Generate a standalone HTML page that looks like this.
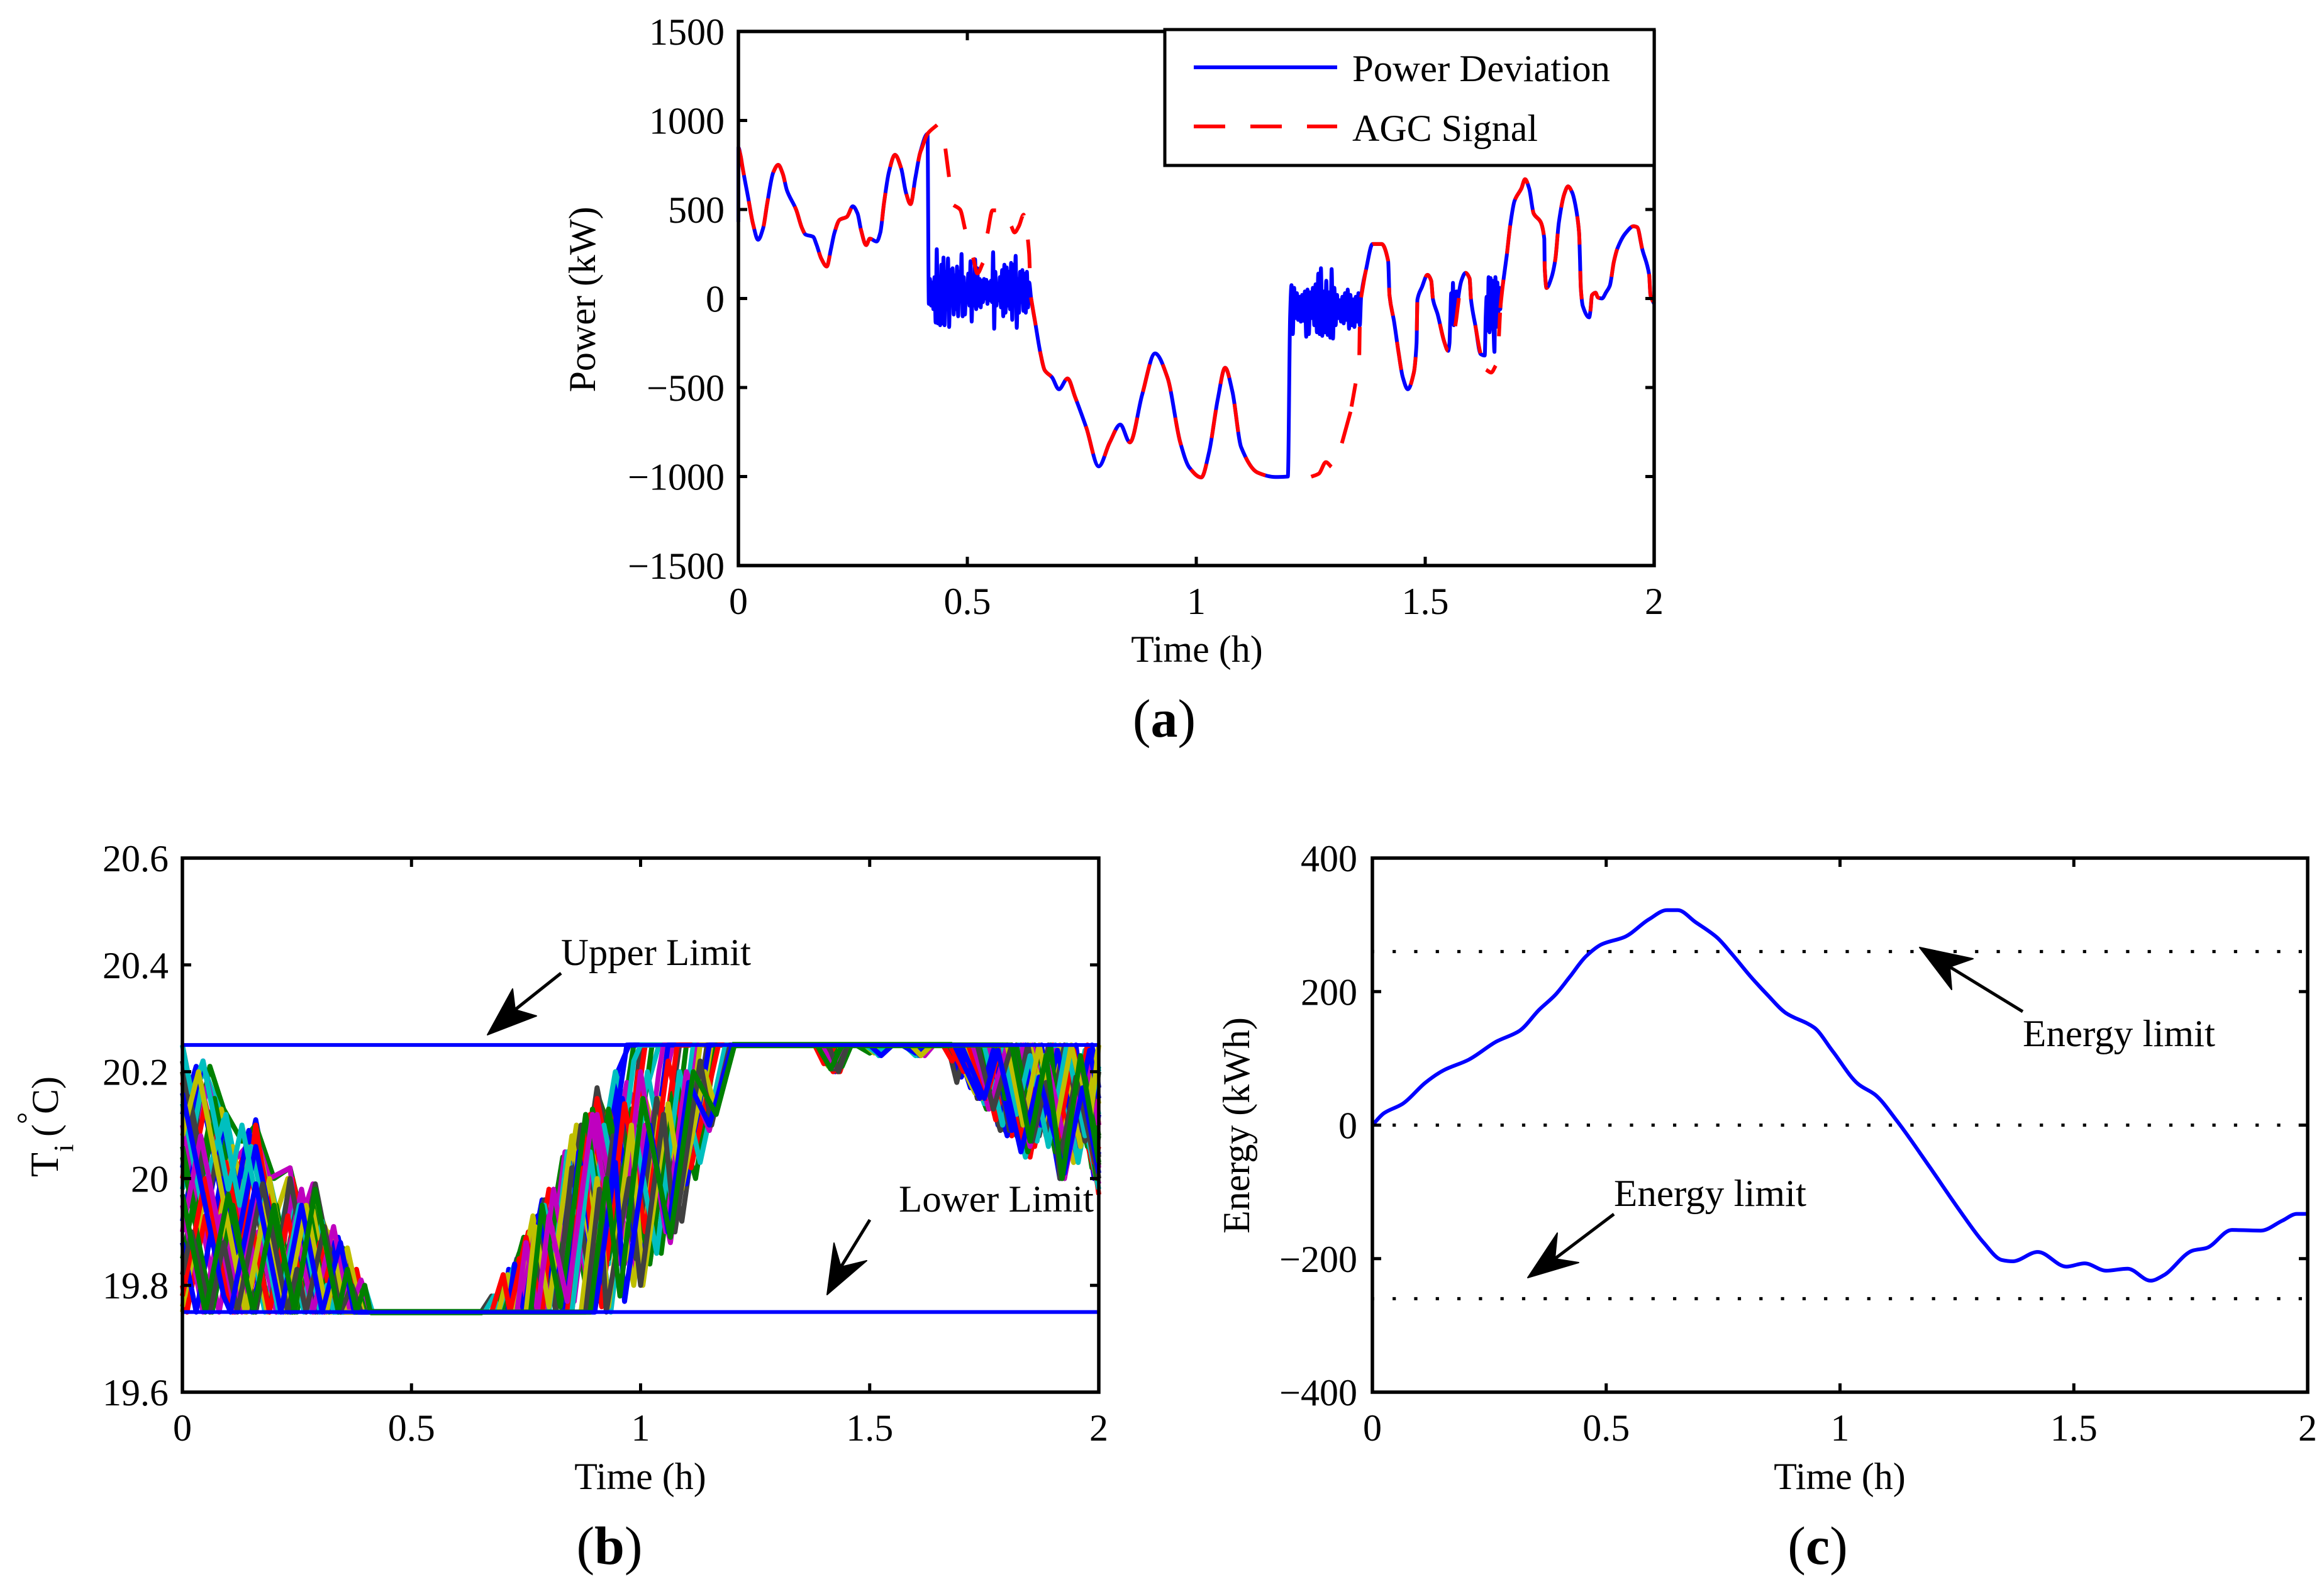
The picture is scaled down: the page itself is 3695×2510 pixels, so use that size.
<!DOCTYPE html>
<html lang="en">
<head>
<meta charset="utf-8">
<title>Power deviation, temperature and energy charts</title>
<style>
html,body{margin:0;padding:0;background:#fff;}
svg{display:block;}
text{font-family:"Liberation Serif",serif;font-size:60px;fill:#000;}
</style>
</head>
<body>
<svg id="figure" xmlns="http://www.w3.org/2000/svg" width="3695" height="2510" viewBox="0 0 3695 2510">
  <rect x="0" y="0" width="3695" height="2510" fill="#fff"/>
</svg>
<script>
// ---------- shared axis data ----------
const timeTicks = [0, 0.5, 1, 1.5, 2];
const timeTickLabels = ["0", "0.5", "1", "1.5", "2"];

// ---------- panel (a) data ----------
const powerTicks = [-1500, -1000, -500, 0, 500, 1000, 1500];
const powerTickLabels = ["\u22121500", "\u22121000", "\u2212500", "0", "500", "1000", "1500"];
const agcSignal = [
[0,848],[.005,800],[.009,736],[.021,571],[.032,418],[.043,330],[.054,395],[.063,536],[.076,707],[.087,751],[.097,700],[.106,607],[.126,500],[.139,395],[.147,359],[.163,347],[.171,300],[.181,224],[.193,180],[.202,277],[.21,371],[.221,442],[.237,459],[.25,518],[.2603,477],[.268,383],[.279,300],[.287,336],[.302,320],[.31,371],[.318,536],[.329,713],[.342,807],[.3557,730],[.366,595],[.376,530],[.3864,677],[.397,819],[.413,925],[.434,975],[.452,842],[.46,683],[.47,524],[.484,500],[.495,389],[.5126,230],[.522,141],[.534,200],[.544,365],[.555,495],[.5626,495],[.58,440],[.596,406],[.603,371],[.6125,406],[.623,471],[.63,400],[.635,250],[.639,6],[.649,-147],[.66,-312],[.669,-403],[.685,-443],[.7,-510],[.719,-449],[.735,-551],[.76,-727],[.787,-943],[.811,-808],[.834,-708],[.855,-808],[.882,-538],[.91,-308],[.937,-443],[.965,-808],[.985,-950],[1.011,-1005],[1.028,-862],[1.047,-565],[1.063,-389],[1.079,-524],[1.098,-835],[1.134,-978],[1.173,-1003],[1.2,-1000],[1.251,-1001],[1.268,-983],[1.283,-919],[1.295,-946],[1.318,-813],[1.337,-636],[1.348,-477],[1.356,-318],[1.357,-159],[1.36,6],[1.371,165],[1.385,306],[1.405,306],[1.419,212],[1.422,18],[1.432,-130],[1.441,-289],[1.451,-442],[1.462,-510],[1.475,-418],[1.481,-253],[1.483,-6],[1.493,65],[1.505,133],[1.513,100],[1.517,-6],[1.527,-88],[1.542,-247],[1.55,-294],[1.559,-253],[1.567,-130],[1.572,-30],[1.579,100],[1.588,144],[1.597,112],[1.6,-6],[1.61,-159],[1.621,-312],[1.633,-400],[1.644,-416],[1.654,-377],[1.661,-212],[1.664,-53],[1.67,88],[1.678,241],[1.686,418],[1.695,548],[1.71,618],[1.718,670],[1.727,618],[1.737,477],[1.752,430],[1.76,336],[1.761,171],[1.765,59],[1.775,112],[1.784,218],[1.792,430],[1.804,589],[1.812,630],[1.821,595],[1.828,524],[1.836,371],[1.838,218],[1.84,53],[1.844,-41],[1.858,-106],[1.861,-65],[1.864,18],[1.872,33],[1.877,6],[1.886,0],[1.895,35],[1.903,71],[1.912,206],[1.92,283],[1.937,365],[1.955,406],[1.963,400],[1.974,277],[1.989,135],[1.992,18],[2,-30]
];
// hours at which the dashed AGC line is visible: [from, to, regular-dash flag]
const agcVisibleHours = [[0,.4,1],[.4,.434,0],[.452,.46,0],[.47,.495,0],[.5126,.534,0],[.544,.5626,0],[.596,.6235,0],[.6323,.6363,0],[.639,1.2,1],[1.251,1.295,0],[1.318,1.337,0],[1.339,1.348,0],[1.356,1.357,0],[1.36,1.63,1],[1.633,1.654,0],[1.661,1.6635,0],[1.664,2,1]];
const deviationStart = [[0,430]];
const noiseHours1 = [.416, .635];
const noiseKw1 = [-30,110,-40,90,-60,120,-135,277,-140,100,-150,190,-140,230,-150,150,-20,225,-160,160,-30,170,-90,130,-60,180,-100,150,-10,250,-100,120,-90,60,-20,140,-40,210,-130,100,-40,220,-60,170,-40,110,-50,100,-20,110,0,105,-30,90,-10,100,-20,260,-170,150,-40,70,-10,120,-50,160,-100,190,-80,175,-40,150,-60,200,-120,190,-40,240,-165,110,-80,150,-20,160,-70,140,-80,150,-50,90];
const noiseHours2 = [1.205, 1.36];
const noiseKw2 = [-100,75,-200,60,-110,30,-120,10,-130,20,-125,40,-215,50,-200,35,-110,60,-150,80,-190,140,-200,170,-210,40,-190,100,-205,35,-220,165,-225,60,-150,20,-110,-10,-130,10,-140,30,-120,50,-170,20,-150,-5,-160,10,-130,30,-150,10];
const noiseHours3 = [1.553, 1.572];
const noiseKw3 = [-250,-100,30,-140,88,-150,10,-120,40,-60,0];
const noiseHours4 = [1.63, 1.666];
const noiseKw4 = [-320,-100,10,-180,120,-190,115,-170,100,-150,-300,120,-160,90,-80,60,-60,20];
const legendLabels = ["Power Deviation", "AGC Signal"];

// ---------- panel (b) data: temperature traces as t,T turning points ----------
const tempTicks = [19.6, 19.8, 20, 20.2, 20.4, 20.6];
const tempTickLabels = ["19.6", "19.8", "20", "20.2", "20.4", "20.6"];
const upperLimit = [20.25];
const lowerLimit = [19.75];
const floorBand = [.41, 19.75, .655, 19.75];
const ceilingBand = [1.2, 20.25, 1.68, 20.25];
const traceColors = ["#0000ff", "#008000", "#ff0000", "#00bfbf", "#bf00bf", "#bfbf00", "#404040"];
const unitTraces = [
[0,20.12,.03,20.21,.105,19.88,.16,20.11,.24,19.75,.29,19.98,.34,19.75,.37,19.83,.39,19.75,.655,19.75,.68,19.78,.7,19.75,.73,19.85,.75,19.8,.785,19.96,.82,19.84,.85,20.06,.905,19.85,.95,20.2,.975,20.25,1.39,20.25,1.425,20.2,1.45,20.25,1.665,20.25,1.7,20.19,1.73,20.25,1.77,20.14,1.8,20.25,1.84,20.1,1.875,20.25,1.915,20.02,1.95,20.25,1.99,20,2,20.05],
[0,20.22,.03,20.08,.06,20.21,.09,20.13,.13,20.07,.16,20.1,.2,20,.235,20.02,.31,19.75,.35,19.87,.375,19.75,.68,19.75,.71,19.82,.73,19.78,.75,19.89,.78,19.8,.835,20.04,.875,19.9,.905,20.16,.95,20.05,.985,20.25,1.47,20.25,1.5,20.235,1.52,20.25,1.7,20.25,1.74,20.16,1.765,20.25,1.805,20.1,1.845,20.05,1.88,20.15,1.91,20.03,1.945,20.24,1.985,20.02,2,20.08],
[0,20,.04,20.18,.1,19.95,.135,20.05,.21,19.8,.24,20,.285,19.83,.31,19.91,.345,19.75,.38,19.83,.4,19.75,.72,19.75,.755,19.9,.78,19.82,.835,20.03,.87,19.9,.93,20.13,.97,20,1.01,20.25,1.405,20.25,1.43,20.2,1.45,20.25,1.72,20.25,1.755,20.15,1.785,20.23,1.82,20.12,1.85,20.24,1.89,20.08,1.925,20.24,1.965,20.1,2,19.98],
[0,20.14,.05,20.2,.085,20.12,.165,19.8,.19,20,.25,19.77,.285,19.97,.33,19.78,.345,19.87,.375,19.75,.397,19.8,.415,19.75,.745,19.75,.79,19.96,.82,19.85,.87,20.1,.905,20,.945,20.2,.985,20.08,1.04,20.25,1.575,20.25,1.6,20.23,1.62,20.25,1.74,20.25,1.78,20.12,1.81,20.24,1.85,20.06,1.89,20.23,1.93,20.07,1.97,20.24,2,20.12],
[0,19.9,.055,20.18,.1,20.02,.16,20.08,.19,20,.235,20.02,.25,19.9,.285,19.99,.34,19.76,.355,19.85,.375,19.75,.76,19.75,.8,19.9,.83,19.8,.88,20.08,.93,19.98,.97,20.18,1.02,20.05,1.07,20.25,1.4,20.25,1.42,20.205,1.445,20.25,1.69,20.25,1.735,20.16,1.77,20.25,1.79,20.1,1.825,20.2,1.85,20.05,1.885,20.2,1.92,20,1.955,20.16,2,19.99],
[0,20.2,.03,20.02,.085,20.13,.12,20,.16,20.09,.2,19.92,.23,20,.27,19.85,.285,19.97,.315,19.9,.345,19.88,.38,19.75,.79,19.75,.82,19.94,.86,19.82,.9,20.05,.95,19.92,1,20.18,1.05,20.03,1.09,20.18,1.12,20.08,1.16,20.25,1.38,20.25,1.41,20.21,1.43,20.25,1.76,20.25,1.79,20.1,1.83,20.23,1.86,20.09,1.9,20.24,1.94,20.06,1.98,20.23,2,20.1],
[0,20.25,.114,19.75,.175,20.02,.236,19.75,.29,19.99,.345,19.75,.366,19.84,.387,19.75,.652,19.75,.675,19.78,.69,19.75,.735,19.86,.76,19.75,.79,19.96,.835,19.76,.905,20.17,.96,19.93,1,20.25,1.385,20.25,1.415,20.205,1.45,20.25,1.67,20.25,1.69,20.18,1.71,20.25,1.735,20.15,1.76,20.25,1.795,20.09,1.83,20.25,1.87,20.08,1.9,20.2,1.92,20,1.965,20.2,2,20.04],
[0,20.02,.045,20.22,.152,19.75,.195,19.94,.238,19.75,.276,19.92,.314,19.75,.345,19.88,.376,19.75,.7,19.75,.712,19.83,.73,19.75,.775,19.93,.81,19.77,.85,20.06,.9,19.84,.97,20.25,1.4,20.25,1.43,20.205,1.455,20.25,1.69,20.25,1.72,20.17,1.745,20.25,1.78,20.1,1.81,20.22,1.845,20.05,1.875,20.2,1.915,20,1.955,20.18,1.985,20.05,2,20.12],
[0,19.85,.07,20.15,.16,19.75,.2,19.93,.24,19.75,.285,19.95,.33,19.75,.36,19.83,.379,19.75,.68,19.75,.69,19.79,.7,19.75,.745,19.89,.775,19.75,.83,20.04,.88,19.8,.93,20.13,.975,19.93,1.025,20.25,1.48,20.25,1.5,20.235,1.53,20.25,1.7,20.25,1.755,20.13,1.79,20.25,1.825,20.1,1.86,20.25,1.905,20.05,1.94,20.22,1.975,20.06,2,20.2],
[0,20.18,.03,20.05,.05,20.14,.14,19.75,.19,19.97,.245,19.75,.265,19.84,.285,19.75,.315,19.88,.345,19.75,.37,19.8,.4,19.75,.72,19.75,.735,19.85,.755,19.75,.8,19.98,.85,19.75,.905,20.15,.955,19.92,1.01,20.25,1.39,20.25,1.42,20.2,1.445,20.25,1.66,20.25,1.68,20.22,1.7,20.25,1.74,20.15,1.77,20.25,1.81,20.08,1.84,20.2,1.85,20.04,1.89,20.22,1.92,20.04,1.96,20.22,2,19.97],
[0,19.98,.042,20.17,.075,20.03,.095,20.12,.18,19.75,.23,19.97,.28,19.75,.31,19.87,.34,19.75,.375,19.79,.39,19.75,.66,19.75,.68,19.78,.69,19.75,.725,19.84,.745,19.75,.79,19.95,.83,19.77,.875,20.09,.93,19.84,.985,20.22,1,20.25,1.58,20.25,1.605,20.23,1.63,20.25,1.71,20.25,1.75,20.14,1.78,20.25,1.84,20.04,1.88,20.23,1.925,20.02,1.955,20.16,2,19.98],
[0,20.1,.08,19.75,.135,19.99,.19,19.75,.24,19.97,.29,19.75,.312,19.85,.335,19.75,.36,19.83,.38,19.75,.4,19.79,.41,19.75,.74,19.75,.76,19.9,.79,19.75,.835,20.05,.885,19.8,.925,20.08,.985,19.82,1.04,20.2,1.05,20.25,1.405,20.25,1.43,20.21,1.452,20.25,1.72,20.25,1.76,20.13,1.79,20.22,1.82,20.1,1.855,20.25,1.895,20.08,1.925,20.25,1.965,20.07,2,20.25],
[0,19.75,.055,20,.075,19.91,.11,20.06,.185,19.75,.21,19.86,.235,19.75,.26,19.87,.285,19.75,.318,19.9,.353,19.75,.38,19.8,.395,19.75,.69,19.75,.71,19.82,.725,19.75,.765,19.93,.8,19.76,.86,20.1,.92,19.82,.96,20.05,1,19.87,1.06,20.25,1.38,20.25,1.41,20.21,1.44,20.25,1.49,20.25,1.51,20.235,1.53,20.25,1.68,20.25,1.73,20.16,1.755,20.25,1.79,20.1,1.835,20.25,1.88,20.1,1.905,20.2,1.945,20.03,1.985,20.22,2,20.14],
[0,20.22,.1,19.78,.115,19.75,.16,19.95,.205,19.75,.25,19.95,.295,19.75,.32,19.86,.345,19.75,.765,19.75,.785,19.9,.815,19.75,.87,20.1,.925,19.85,.96,20.1,1.02,19.84,1.085,20.25,1.395,20.25,1.42,20.205,1.448,20.25,1.73,20.25,1.785,20.09,1.82,20.25,1.85,20.06,1.89,20.25,1.915,20,1.96,20.2,2,20],
[0,19.92,.03,20.05,.055,19.94,.09,20.1,.12,19.98,.145,20.09,.22,19.75,.26,19.93,.3,19.75,.33,19.88,.36,19.75,.71,19.75,.725,19.84,.745,19.75,.78,19.93,.81,19.8,.845,20.03,.905,19.77,.96,20.15,1.01,19.92,1.06,20.25,1.59,20.25,1.61,20.23,1.63,20.25,1.695,20.25,1.725,20.18,1.75,20.25,1.8,20.08,1.84,20.25,1.875,20.12,1.905,20.25,1.95,20.05,1.985,20.25,2,20.17],
[0,20.06,.03,19.93,.07,20.11,.145,19.78,.16,19.75,.205,19.95,.25,19.75,.28,19.88,.31,19.75,.34,19.86,.37,19.75,.39,19.8,.405,19.75,.785,19.75,.81,19.95,.845,19.76,.895,20.13,.945,19.9,.98,20.13,1.045,19.86,1.1,20.25,1.385,20.25,1.405,20.215,1.43,20.25,1.74,20.25,1.77,20.14,1.8,20.25,1.845,20.05,1.88,20.22,1.925,20,1.97,20.22,2,20.08],
[0,19.8,.01,19.75,.05,19.93,.06,19.88,.095,20.03,.13,19.88,.16,20.1,.225,19.75,.27,19.95,.315,19.75,.33,19.82,.345,19.75,.675,19.75,.7,19.82,.715,19.75,.75,19.89,.785,19.75,.8,19.87,.83,19.75,.89,20.12,.945,19.87,.995,20.2,1.04,20,1.08,20.25,1.41,20.25,1.435,20.2,1.455,20.25,1.675,20.25,1.705,20.2,1.735,20.25,1.775,20.11,1.81,20.25,1.86,20.06,1.9,20.25,1.94,20.07,1.975,20.25,2,20.1],
[0,20.14,.04,19.96,.09,20.11,.125,19.95,.15,20.06,.225,19.75,.245,19.84,.265,19.75,.305,19.92,.345,19.75,.37,19.8,.385,19.75,.8,19.75,.84,20.05,.885,19.82,.92,20.1,.97,19.88,1.015,20.2,1.07,19.95,1.115,20.25,1.5,20.25,1.52,20.23,1.54,20.25,1.75,20.25,1.79,20.1,1.825,20.25,1.865,20.07,1.905,20.25,1.955,20.03,1.995,20.22,2,20.2],
[0,19.95,.045,19.75,.085,19.93,.12,19.78,.13,19.75,.165,19.9,.205,19.75,.26,19.98,.31,19.75,.34,19.88,.375,19.75,.73,19.75,.75,19.88,.775,19.75,.81,19.98,.855,19.77,.905,20.12,.965,19.84,1.01,20.1,1.065,19.88,1.125,20.25,1.6,20.25,1.62,20.23,1.64,20.25,1.76,20.25,1.8,20.12,1.835,20.25,1.87,20.1,1.905,20.24,1.925,20,1.975,20.22,2,20.1],
[0,19.76,.03,19.88,.06,19.75,.1,19.93,.14,19.75,.19,20,.245,19.75,.285,19.94,.325,19.75,.36,19.87,.39,19.75,.75,19.75,.77,19.91,.8,19.76,.85,20.08,.91,19.78,.945,20,.985,19.8,1.04,20.15,1.09,19.98,1.13,20.25,1.39,20.25,1.41,20.22,1.43,20.25,1.705,20.25,1.745,20.15,1.775,20.25,1.815,20.11,1.85,20.25,1.885,20.13,1.915,20.25,1.96,20.06,2,20.25],
[0,20.2,.055,19.95,.075,20.04,.16,19.75,.175,19.82,.19,19.75,.235,20,.29,19.75,.32,19.88,.35,19.75,.815,19.75,.85,20.02,.895,19.78,.94,20.08,.99,19.85,1.035,20.15,1.09,19.92,1.145,20.25,1.4,20.25,1.425,20.205,1.45,20.25,1.77,20.25,1.805,20.09,1.845,20.25,1.885,20.08,1.925,20.25,1.97,20.07,2,20.2],
[0,19.88,.03,19.75,.085,20,.115,19.86,.16,20.06,.235,19.75,.265,19.88,.3,19.75,.34,19.89,.375,19.75,.83,19.75,.865,20.05,.91,19.78,.95,20.1,1,19.82,1.05,20.13,1.1,19.99,1.15,20.25,1.57,20.25,1.6,20.235,1.625,20.25,1.685,20.25,1.74,20.15,1.77,20.24,1.81,20.09,1.85,20.2,1.875,20.1,1.91,20.24,1.945,20.09,1.98,20.24,2,20.15],
[0,20.04,.065,19.75,.11,19.95,.155,19.75,.195,19.93,.225,19.8,.24,19.75,.28,19.93,.32,19.75,.35,19.85,.37,19.75,.76,19.75,.785,19.95,.825,19.76,.88,20.12,.93,19.85,.97,20.05,1.02,19.84,1.07,20.16,1.12,20,1.165,20.25,1.42,20.25,1.44,20.21,1.46,20.25,1.78,20.25,1.795,20.15,1.82,20.25,1.855,20.09,1.895,20.25,1.92,20.03,1.96,20.2,1.995,20,2,20.03],
[0,19.78,.05,20,.1,19.78,.11,19.75,.15,19.92,.19,19.75,.23,19.93,.27,19.75,.3,19.88,.33,19.75,.36,19.83,.385,19.75,.84,19.75,.875,20.02,.915,19.76,.965,20.14,1.01,19.9,1.06,20.22,1.11,20.02,1.17,20.25,1.38,20.25,1.4,20.215,1.425,20.25,1.715,20.25,1.755,20.15,1.785,20.25,1.83,20.07,1.87,20.25,1.91,20.07,1.945,20.24,1.99,20.03,2,20.06],
[0,20.25,.02,20.16,.045,20.22,.1,19.98,.13,20.1,.21,19.75,.255,19.95,.3,19.75,.315,19.8,.33,19.75,.85,19.75,.89,20.05,.935,19.75,.985,20.1,1.035,19.86,1.085,20.2,1.13,20.03,1.185,20.25,1.49,20.25,1.515,20.235,1.54,20.25,1.79,20.25,1.82,20.12,1.85,20.23,1.89,20.06,1.93,20.25,1.97,20.08,2,20.21],
[0,19.9,.04,20.08,.115,19.75,.165,19.97,.215,19.75,.25,19.9,.285,19.75,.33,19.91,.365,19.75,.39,19.81,.41,19.75,.775,19.75,.8,19.93,.84,19.77,.895,20.12,.95,19.84,1,20.2,1.055,19.9,1.1,20.2,1.15,20.09,1.195,20.25,1.395,20.25,1.42,20.21,1.44,20.25,1.725,20.25,1.765,20.14,1.8,20.25,1.85,20.06,1.89,20.21,1.93,20.05,1.965,20.2,2,20.02],
[0,20.08,.035,20.2,.13,19.78,.137,19.75,.18,19.94,.225,19.75,.27,19.95,.315,19.75,.335,19.84,.355,19.75,.87,19.75,.905,20,.93,19.76,.98,20.1,1.005,19.8,1.06,20.14,1.09,19.98,1.14,20.2,1.165,20.13,1.205,20.25,1.59,20.25,1.612,20.23,1.635,20.25,1.8,20.25,1.835,20.1,1.87,20.25,1.905,20.09,1.94,20.25,1.98,20.1,2,20.25],
[0,19.82,.02,19.9,.06,19.75,.09,19.88,.12,19.75,.175,19.99,.23,19.75,.25,19.83,.27,19.75,.31,19.91,.345,19.75,.37,19.8,.39,19.75,.88,19.75,.91,19.98,.925,19.75,.975,20,1,19.8,1.05,20.12,1.075,19.9,1.13,20.22,1.155,20.1,1.195,20.25,1.41,20.25,1.432,20.2,1.452,20.25,1.735,20.25,1.77,20.13,1.81,20.25,1.855,20.07,1.885,20.18,1.915,20.03,1.95,20.19,2,20],
[0,20.16,.09,19.78,.105,19.75,.16,19.99,.215,19.75,.26,19.95,.305,19.75,.345,19.88,.375,19.75,.9,19.75,.945,20.03,.965,19.77,1.02,20.1,1.06,19.9,1.105,20.18,1.15,20.1,1.2,20.25,1.5,20.25,1.525,20.23,1.55,20.25,1.7,20.25,1.75,20.15,1.78,20.24,1.83,20.05,1.87,20.19,1.925,20.01,1.965,20.17,2,20.01],
[0,19.97,.05,19.75,.1,19.97,.155,19.75,.2,19.95,.245,19.75,.29,19.98,.34,19.75,.36,19.83,.38,19.75,.398,19.8,.41,19.75,.89,19.75,.925,20,.955,19.78,1.005,20.15,1.065,19.89,1.115,20.2,1.165,20.12,1.205,20.25,1.385,20.25,1.415,20.205,1.44,20.25,1.81,20.25,1.85,20.07,1.885,20.23,1.92,20,1.96,20.23,2,20.03]
];
const tempAnnotations = ["Upper Limit", "Lower Limit"];

// ---------- panel (c) data ----------
const energyTicks = [-400, -200, 0, 200, 400];
const energyTickLabels = ["\u2212400", "\u2212200", "0", "200", "400"];
const energyLimits = [260, 0, -260];
const energyCurve = [
[0,0],[.025,18],[.065,32],[.114,64],[.152,82],[.206,98],[.265,125],[.314,141],[.357,173],[.391,195],[.422,222],[.457,253],[.491,271],[.54,282],[.591,308],[.63,322],[.653,322],[.691,304],[.737,281],[.768,257],[.807,224],[.845,195],[.884,168],[.945,146],[.984,111],[1.038,62],[1.076,45],[1.122,6],[1.192,-63],[1.253,-125],[1.307,-176],[1.346,-202],[1.369,-204],[1.423,-190],[1.484,-212],[1.523,-207],[1.569,-218],[1.615,-215],[1.664,-233],[1.692,-225],[1.754,-188],[1.784,-184],[1.838,-157],[1.9,-158],[1.946,-143],[1.977,-133],[2,-133]
];
const energyAnnotations = ["Energy limit", "Energy limit"];

// ---------- drawing ----------
const NS = "http://www.w3.org/2000/svg";
const svg = document.getElementById("figure");

function make(parent, tag, attrs, content) {
  const el = document.createElementNS(NS, tag);
  for (const k in attrs) el.setAttribute(k, attrs[k]);
  if (content !== undefined) el.textContent = content;
  parent.appendChild(el);
  return el;
}
function scale(d0, d1, r0, r1) {
  return v => r0 + (v - d0) / (d1 - d0) * (r1 - r0);
}
function pointsOf(pairs, sx, sy) {
  return pairs.map(p => sx(p[0]).toFixed(1) + "," + sy(p[1]).toFixed(1)).join(" ");
}
function flatPairs(flat) {
  const out = [];
  for (let i = 0; i + 1 < flat.length; i += 2) out.push([flat[i], flat[i + 1]]);
  return out;
}
// monotone cubic path through the data points (no overshoot)
function smoothPath(pairs, sx, sy) {
  const P = pairs.map(p => [sx(p[0]), sy(p[1])]);
  const n = P.length;
  const m = [];
  for (let i = 0; i < n - 1; i++) {
    const dx = P[i + 1][0] - P[i][0];
    m.push(dx > 0 ? (P[i + 1][1] - P[i][1]) / dx : 0);
  }
  const tan = [];
  for (let i = 0; i < n; i++) {
    if (i === 0) tan.push(m[0]);
    else if (i === n - 1) tan.push(m[n - 2]);
    else if (m[i - 1] * m[i] <= 0) tan.push(0);
    else tan.push(2 * m[i - 1] * m[i] / (m[i - 1] + m[i]));
  }
  let d = "M" + P[0][0].toFixed(1) + " " + P[0][1].toFixed(1);
  for (let i = 0; i < n - 1; i++) {
    const dx = P[i + 1][0] - P[i][0];
    if (dx <= 0) {
      d += "L" + P[i + 1][0].toFixed(1) + " " + P[i + 1][1].toFixed(1);
    } else {
      d += "C" + (P[i][0] + dx / 3).toFixed(1) + " " + (P[i][1] + tan[i] * dx / 3).toFixed(1) + " " +
        (P[i + 1][0] - dx / 3).toFixed(1) + " " + (P[i + 1][1] - tan[i + 1] * dx / 3).toFixed(1) + " " +
        P[i + 1][0].toFixed(1) + " " + P[i + 1][1].toFixed(1);
    }
  }
  return d;
}
function valueAt(series, t) {
  for (let i = 0; i < series.length - 1; i++) {
    if (t >= series[i][0] && t <= series[i + 1][0]) {
      const dt = series[i + 1][0] - series[i][0];
      if (dt === 0) return series[i][1];
      return series[i][1] + (series[i + 1][1] - series[i][1]) * (t - series[i][0]) / dt;
    }
  }
  return series[series.length - 1][1];
}
function sliceSeries(series, t0, t1) {
  const out = [[t0, valueAt(series, t0)]];
  series.forEach(p => {
    if (p[0] > t0 && p[0] < t1) out.push(p);
  });
  out.push([t1, valueAt(series, t1)]);
  return out;
}

function drawAxes(group, box, sx, sy, xT, xL, yT, yL, yLabelRight) {
  const TICK = 14;
  xT.forEach((v, i) => {
    const x = sx(v);
    const b = make(group, "line", {x1: x, x2: x, y1: box.b, y2: box.b - TICK, stroke: "#000", "stroke-width": 5});
    
    
    const t = make(group, "line", {x1: x, x2: x, y1: box.t, y2: box.t + TICK, stroke: "#000", "stroke-width": 5});
    
    
    const lab = make(group, "text", {x: x, y: box.b + 77, "text-anchor": "middle"}, xL[i]);
    
    
  });
  yT.forEach((v, i) => {
    const y = sy(v);
    const l = make(group, "line", {x1: box.l, x2: box.l + TICK, y1: y, y2: y, stroke: "#000", "stroke-width": 5});
    
    
    const r = make(group, "line", {x1: box.r, x2: box.r - TICK, y1: y, y2: y, stroke: "#000", "stroke-width": 5});
    
    
    const lab = make(group, "text", {x: yLabelRight, y: y + 21, "text-anchor": "end"}, yL[i]);
    
    
  });
  const frame = make(group, "rect", {x: box.l, y: box.t, width: box.r - box.l, height: box.b - box.t, fill: "none", stroke: "#000", "stroke-width": 5.5});
  
  
}
function caption(letter, cx, y) {
  const t = make(svg, "text", {x: cx, y: y, "text-anchor": "middle", style: "font-size:86px"});
  
  
  make(t, "tspan", {}, "(");
  make(t, "tspan", {"font-weight": "bold"}, letter);
  make(t, "tspan", {}, ")");
}
function xLabel(group, cx, y) {
  const t = make(group, "text", {x: cx, y: y, "text-anchor": "middle"}, "Time (h)");
  
  
}
function arrow(group, tail, notch, barbA, tip, barbB, name) {
  const s = make(group, "line", {x1: tail[0], y1: tail[1], x2: notch[0], y2: notch[1], stroke: "#000", "stroke-width": 5});
  
  
  const h = make(group, "polygon", {points: [notch, barbA, tip, barbB].map(p => p.join(",")).join(" "), fill: "#000", stroke: "#000", "stroke-width": 2, "stroke-linejoin": "round"});
  
  
}

// ----- panel (a) -----
(function () {
  const box = {l: 1174, r: 2630, t: 50, b: 899};
  const g = make(svg, "g", {});
  
  
  const sx = scale(0, 2, box.l, box.r);
  const sy = scale(-1500, 1500, box.b, box.t);

  const windows = [
    [noiseHours1, noiseKw1], [noiseHours2, noiseKw2], [noiseHours3, noiseKw3], [noiseHours4, noiseKw4]
  ];
  let deviation = deviationStart.slice();
  let w = 0;
  agcSignal.forEach(p => {
    while (w < windows.length && p[0] >= windows[w][0][0]) {
      const h = windows[w][0], vals = windows[w][1];
      if (p[0] <= h[1]) {
        vals.forEach((v, i) => deviation.push([h[0] + (h[1] - h[0]) * i / (vals.length - 1), v]));
        break;
      } else {
        w++;
      }
    }
    const inside = windows.some(win => p[0] >= win[0][0] && p[0] <= win[0][1]);
    if (!inside) deviation.push(p);
    if (w < windows.length && p[0] >= windows[w][0][0]) { w++; }
  });

  const blue = make(g, "path", {d: smoothPath(deviation, sx, sy), fill: "none", stroke: "#0000ff", "stroke-width": 6, "stroke-linejoin": "round"});
  
  

  agcVisibleHours.forEach(section => {
    const piece = sliceSeries(agcSignal, section[0], section[1]);
    const attrs = {d: smoothPath(piece, sx, sy), fill: "none", stroke: "#ff0000", "stroke-width": 6, "stroke-linejoin": "round"};
    if (section[2] === 1) attrs["stroke-dasharray"] = "45 42";
    const red = make(g, "path", attrs);
    
    
  });

  drawAxes(g, box, sx, sy, timeTicks, timeTickLabels, powerTicks, powerTickLabels, 1152);

  const leg = make(g, "g", {});
  
  
  const lb = make(leg, "rect", {x: 1852, y: 47, width: 778, height: 216, fill: "#fff", stroke: "#000", "stroke-width": 5});
  
  
  const l1 = make(leg, "line", {x1: 1898, x2: 2126, y1: 107, y2: 107, stroke: "#0000ff", "stroke-width": 6});
  
  
  const l2 = make(leg, "line", {x1: 1898, x2: 2126, y1: 201, y2: 201, stroke: "#ff0000", "stroke-width": 6, "stroke-dasharray": "50 40"});
  
  
  const t1 = make(leg, "text", {x: 2150, y: 129, textLength: 410, lengthAdjust: "spacingAndGlyphs"}, legendLabels[0]);
  
  
  const t2 = make(leg, "text", {x: 2150, y: 224}, legendLabels[1]);
  
  

  xLabel(g, 1903, 1052);
  const yl = make(g, "text", {transform: "translate(946,476) rotate(-90)", "text-anchor": "middle"}, "Power (kW)");
  
  
})();
caption("a", 1851, 1171);

// ----- panel (b) -----
(function () {
  const box = {l: 290, r: 1747, t: 1364, b: 2213};
  const g = make(svg, "g", {});
  
  
  const sx = scale(0, 2, box.l, box.r);
  const sy = scale(19.6, 20.6, box.b, box.t);

  unitTraces.forEach((trace, i) => {
    const line = make(g, "polyline", {points: pointsOf(flatPairs(trace), sx, sy), fill: "none", stroke: traceColors[i % traceColors.length], "stroke-width": 8, "stroke-linejoin": "round"});
    
    
  });

  const fb = make(g, "polyline", {points: pointsOf(flatPairs(floorBand), sx, sy), fill: "none", stroke: "#008000", "stroke-width": 10});
  
  
  const cb = make(g, "polyline", {points: pointsOf(flatPairs(ceilingBand), sx, sy), fill: "none", stroke: "#008000", "stroke-width": 10});
  
  

  const up = make(g, "line", {x1: box.l, x2: box.r, y1: sy(upperLimit[0]), y2: sy(upperLimit[0]), stroke: "#0000ff", "stroke-width": 6});
  
  
  const lo = make(g, "line", {x1: box.l, x2: box.r, y1: sy(lowerLimit[0]), y2: sy(lowerLimit[0]), stroke: "#0000ff", "stroke-width": 6});
  
  

  drawAxes(g, box, sx, sy, timeTicks, timeTickLabels, tempTicks, tempTickLabels, 268);

  const ua = make(g, "text", {x: 892, y: 1534, textLength: 302, lengthAdjust: "spacingAndGlyphs"}, tempAnnotations[0]);
  
  
  arrow(g, [892, 1547], [819, 1605], [815, 1572], [775, 1645], [853, 1615], "upper-limit-arrow");
  const la = make(g, "text", {x: 1429, y: 1926, textLength: 310, lengthAdjust: "spacingAndGlyphs"}, tempAnnotations[1]);
  
  
  arrow(g, [1383, 1939], [1337, 2014], [1326, 1976], [1315, 2058], [1378, 2004], "lower-limit-arrow");

  xLabel(g, 1018, 2367);
  const yl = make(g, "text", {transform: "translate(92,1871) rotate(-90)"});
  
  
  make(yl, "tspan", {x: 0, y: 0, style: "font-size:64px"}, "T");
  make(yl, "tspan", {x: 40, y: 24, style: "font-size:44px"}, "i");
  make(yl, "tspan", {x: 64, y: 0}, "(");
  make(yl, "tspan", {x: 84, y: -32, style: "font-size:48px"}, "\u00b0");
  make(yl, "tspan", {x: 100, y: 0}, "C)");
})();
caption("b", 969, 2486);

// ----- panel (c) -----
(function () {
  const box = {l: 2182, r: 3669, t: 1364, b: 2213};
  const g = make(svg, "g", {});
  
  
  const sx = scale(0, 2, box.l, box.r);
  const sy = scale(-400, 400, box.b, box.t);

  energyLimits.forEach(v => {
    const d = make(g, "line", {x1: box.l, x2: box.r, y1: sy(v), y2: sy(v), stroke: "#000", "stroke-width": 5, "stroke-dasharray": "5.2 29.1", "stroke-dashoffset": 2.2});
    
    
  });
  const curve = make(g, "path", {d: smoothPath(energyCurve, sx, sy), fill: "none", stroke: "#0000ff", "stroke-width": 6, "stroke-linejoin": "round"});
  
  

  drawAxes(g, box, sx, sy, timeTicks, timeTickLabels, energyTicks, energyTickLabels, 2158);

  const a1 = make(g, "text", {x: 3216, y: 1663, textLength: 306, lengthAdjust: "spacingAndGlyphs"}, energyAnnotations[0]);
  
  
  arrow(g, [3216, 1608], [3100, 1537], [3137, 1524], [3052, 1506], [3103, 1573], "upper-energy-arrow");
  const a2 = make(g, "text", {x: 2566, y: 1917, textLength: 306, lengthAdjust: "spacingAndGlyphs"}, energyAnnotations[1]);
  
  
  arrow(g, [2566, 1930], [2472, 2001], [2476, 1960], [2429, 2031], [2510, 2007], "lower-energy-arrow");

  xLabel(g, 2925, 2367);
  const yl = make(g, "text", {transform: "translate(1986,1789) rotate(-90)", "text-anchor": "middle"}, "Energy (kWh)");
  
  
})();
caption("c", 2890, 2486);
</script>
</body>
</html>
